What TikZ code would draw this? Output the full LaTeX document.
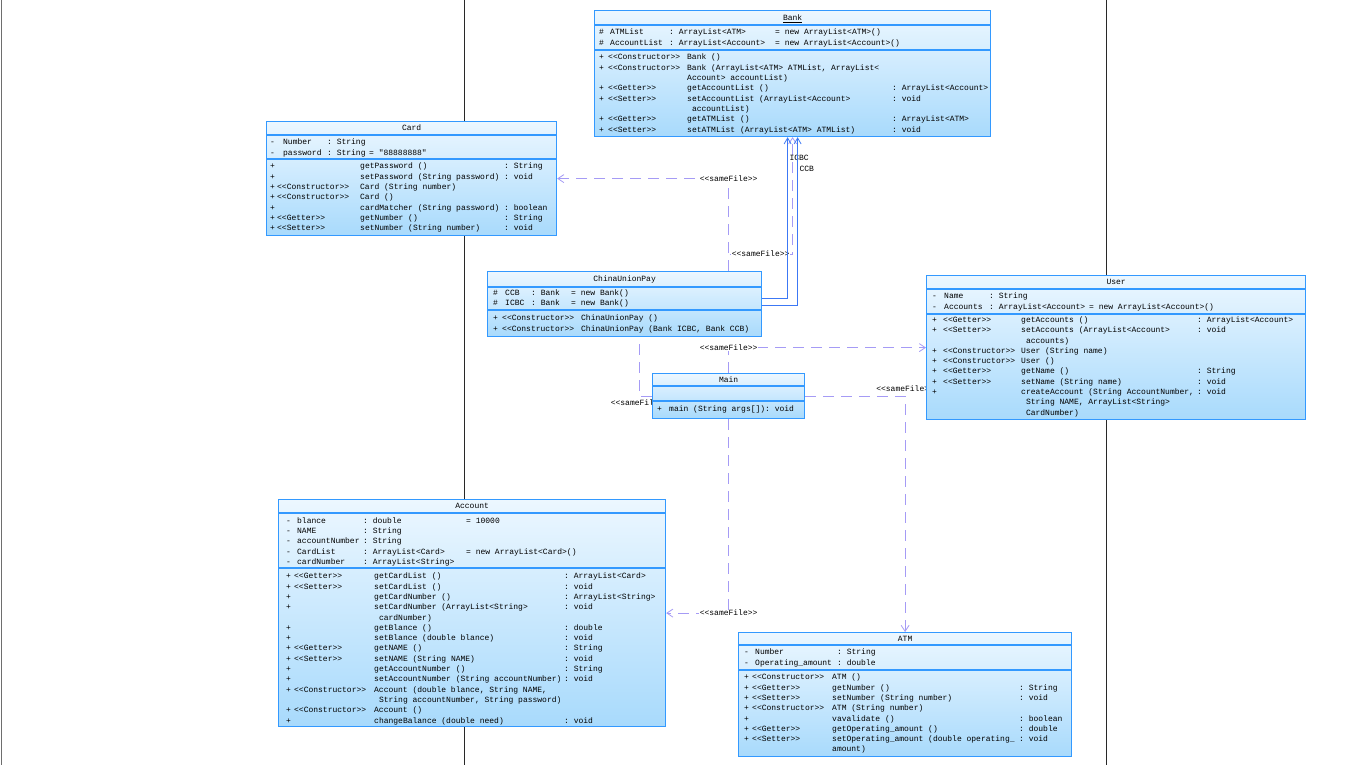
\documentclass[tikz,border=0pt]{standalone}
\usepackage{fontspec}
\setmonofont{Liberation Mono}
\usepackage{array}
\usetikzlibrary{
  arrows.meta,
  positioning,
  backgrounds
}
\definecolor{umlborder}{RGB}{51,153,255}
\definecolor{umltop}{RGB}{236,247,255}
\definecolor{umlbottom}{RGB}{168,218,252}
\definecolor{depline}{RGB}{165,155,245}
\definecolor{assocline}{RGB}{60,120,245}
\definecolor{pageline}{RGB}{40,40,40}
\definecolor{edgegray}{RGB}{110,110,110}
\newcommand{\umlfont}{\ttfamily\fontsize{8}{10.3}\selectfont}
\newcolumntype{W}[1]{>{\hbox to #1\bgroup}l<{\hss\egroup}}
\setlength{\tabcolsep}{0pt}

\begin{document}
\begin{tikzpicture}[
            x=1pt, y=-1pt,
            umlbox/.style={draw=umlborder, line width=1.2pt, top color=umltop, bottom color=umlbottom, inner sep=0pt, anchor=north west},
            umlsep/.style={draw=umlborder, line width=1.2pt},
            ttl/.style={font=\umlfont, inner sep=0pt, text height=5.5pt, text depth=0pt},
            compt/.style={font=\umlfont, inner sep=0pt, anchor=north west},
            lbl/.style={font=\umlfont, fill=white, inner sep=0.5pt},
            rolelbl/.style={font=\umlfont, inner sep=1.5pt, anchor=west},
            dep/.style={draw=depline, line width=0.8pt, dash pattern=on 11pt off 7pt, -{Straight Barb[length=6pt,width=8pt]}},
            depnotip/.style={draw=depline, line width=0.8pt, dash pattern=on 11pt off 7pt},
            assoc/.style={draw=assocline, line width=0.8pt, -{Straight Barb[length=6pt,width=7pt]}}
        ]
            \useasboundingbox (0,0) rectangle (1364,765);

            % Bank
            \node[umlbox, minimum width=396pt, minimum height=126pt] (bank) at (594,10) {};
            \draw[umlsep] ([yshift=-15pt]bank.north west) -- ([yshift=-15pt]bank.north east);
            \draw[umlsep] ([yshift=-40pt]bank.north west) -- ([yshift=-40pt]bank.north east);
            \node[ttl] (bank-ttl) at ([yshift=-7.5pt]bank.north) {\underline{Bank}};
            \node[compt] (bank-attr) at ([xshift=5pt,yshift=-17.5pt]bank.north west) {\begin{tabular}{W{11pt}W{59pt}W{106pt}l}
                \# & ATMList & : ArrayList<ATM> & = new ArrayList<ATM>()\\
                \# & AccountList & : ArrayList<Account> & = new ArrayList<Account>()
            \end{tabular}};
            \node[compt] (bank-ops) at ([xshift=5pt,yshift=-42.5pt]bank.north west) {\begin{tabular}{W{9pt}W{79pt}W{205pt}l}
                + & <<Constructor>> & Bank () & \\
                + & <<Constructor>> & Bank (ArrayList<ATM> ATMList, ArrayList< & \\
                  & & Account> accountList) & \\
                + & <<Getter>> & getAccountList () & : ArrayList<Account>\\
                + & <<Setter>> & setAccountList (ArrayList<Account> & : void\\
                  & & \ accountList) & \\
                + & <<Getter>> & getATMList () & : ArrayList<ATM>\\
                + & <<Setter>> & setATMList (ArrayList<ATM> ATMList) & : void
            \end{tabular}};

            % Card
            \node[umlbox, minimum width=290pt, minimum height=114pt] (card) at (266,121) {};
            \draw[umlsep] ([yshift=-14pt]card.north west) -- ([yshift=-14pt]card.north east);
            \draw[umlsep] ([yshift=-38pt]card.north west) -- ([yshift=-38pt]card.north east);
            \node[ttl] (card-ttl) at ([yshift=-7pt]card.north) {Card};
            \node[compt] (card-attr) at ([xshift=4pt,yshift=-16.5pt]card.north west) {\begin{tabular}{W{13pt}W{44pt}W{42pt}l}
                - & Number & : String & \\
                - & password & : String & = "88888888"
            \end{tabular}};
            \node[compt] (card-ops) at ([xshift=4pt,yshift=-40.5pt]card.north west) {\begin{tabular}{W{7pt}W{83pt}W{144pt}l}
                + & & getPassword () & : String\\
                + & & setPassword (String password) & : void\\
                + & <<Constructor>> & Card (String number) & \\
                + & <<Constructor>> & Card () & \\
                + & & cardMatcher (String password) & : boolean\\
                + & <<Getter>> & getNumber () & : String\\
                + & <<Setter>> & setNumber (String number) & : void
            \end{tabular}};

            % ChinaUnionPay
            \node[umlbox, minimum width=274pt, minimum height=65pt] (cup) at (487,271) {};
            \draw[umlsep] ([yshift=-16pt]cup.north west) -- ([yshift=-16pt]cup.north east);
            \draw[umlsep] ([yshift=-39pt]cup.north west) -- ([yshift=-39pt]cup.north east);
            \node[ttl] (cup-ttl) at ([yshift=-8pt]cup.north) {ChinaUnionPay};
            \node[compt] (cup-attr) at ([xshift=6pt,yshift=-17pt]cup.north west) {\begin{tabular}{W{12pt}W{26pt}W{40pt}l}
                \# & CCB & : Bank & = new Bank()\\
                \# & ICBC & : Bank & = new Bank()
            \end{tabular}};
            \node[compt] (cup-ops) at ([xshift=6pt,yshift=-42.5pt]cup.north west) {\begin{tabular}{W{9pt}W{79pt}l}
                + & <<Constructor>> & ChinaUnionPay ()\\
                + & <<Constructor>> & ChinaUnionPay (Bank ICBC, Bank CCB)
            \end{tabular}};

            % User
            \node[umlbox, minimum width=379pt, minimum height=144pt] (user) at (926,275) {};
            \draw[umlsep] ([yshift=-14pt]user.north west) -- ([yshift=-14pt]user.north east);
            \draw[umlsep] ([yshift=-39pt]user.north west) -- ([yshift=-39pt]user.north east);
            \node[ttl] (user-ttl) at ([yshift=-7pt]user.north) {User};
            \node[compt] (user-attr) at ([xshift=6pt,yshift=-16.5pt]user.north west) {\begin{tabular}{W{12pt}W{45pt}W{100pt}l}
                - & Name & : String & \\
                - & Accounts & : ArrayList<Account> & = new ArrayList<Account>()
            \end{tabular}};
            \node[compt] (user-ops) at ([xshift=6pt,yshift=-40pt]user.north west) {\begin{tabular}{W{11pt}W{78pt}W{176pt}l}
                + & <<Getter>> & getAccounts () & : ArrayList<Account>\\
                + & <<Setter>> & setAccounts (ArrayList<Account> & : void\\
                  & & \ accounts) & \\
                + & <<Constructor>> & User (String name) & \\
                + & <<Constructor>> & User () & \\
                + & <<Getter>> & getName () & : String\\
                + & <<Setter>> & setName (String name) & : void\\
                + & & createAccount (String AccountNumber, & : void\\
                  & & \ String NAME, ArrayList<String> & \\
                  & & \ CardNumber) &
            \end{tabular}};

            % Main
            \node[umlbox, minimum width=152pt, minimum height=45pt] (main) at (652,373) {};
            \draw[umlsep] ([yshift=-13pt]main.north west) -- ([yshift=-13pt]main.north east);
            \draw[umlsep] ([yshift=-28pt]main.north west) -- ([yshift=-28pt]main.north east);
            \node[ttl] (main-ttl) at ([yshift=-6.5pt]main.north) {Main};
            \node[compt] (main-ops) at ([xshift=5pt,yshift=-31.4pt]main.north west) {\begin{tabular}{W{12pt}l}
                + & main (String args[]): void
            \end{tabular}};

            % Account
            \node[umlbox, minimum width=387pt, minimum height=227pt] (account) at (278,499) {};
            \draw[umlsep] ([yshift=-14pt]account.north west) -- ([yshift=-14pt]account.north east);
            \draw[umlsep] ([yshift=-69pt]account.north west) -- ([yshift=-69pt]account.north east);
            \node[ttl] (account-ttl) at ([yshift=-7pt]account.north) {Account};
            \node[compt] (account-attr) at ([xshift=8pt,yshift=-16.7pt]account.north west) {\begin{tabular}{W{11pt}W{66pt}W{103pt}l}
                - & blance & : double & = 10000\\
                - & NAME & : String & \\
                - & accountNumber & : String & \\
                - & CardList & : ArrayList<Card> & = new ArrayList<Card>()\\
                - & cardNumber & : ArrayList<String> &
            \end{tabular}};
            \node[compt] (account-ops) at ([xshift=8pt,yshift=-72.4pt]account.north west) {\begin{tabular}{W{8pt}W{80pt}W{190pt}l}
                + & <<Getter>> & getCardList () & : ArrayList<Card>\\
                + & <<Setter>> & setCardList () & : void\\
                + & & getCardNumber () & : ArrayList<String>\\
                + & & setCardNumber (ArrayList<String> & : void\\
                  & & \ cardNumber) & \\
                + & & getBlance () & : double\\
                + & & setBlance (double blance) & : void\\
                + & <<Getter>> & getNAME () & : String\\
                + & <<Setter>> & setNAME (String NAME) & : void\\
                + & & getAccountNumber () & : String\\
                + & & setAccountNumber (String accountNumber) & : void\\
                + & <<Constructor>> & Account (double blance, String NAME, & \\
                  & & \ String accountNumber, String password) & \\
                + & <<Constructor>> & Account () & \\
                + & & changeBalance (double need) & : void
            \end{tabular}};

            % ATM
            \node[umlbox, minimum width=333pt, minimum height=124pt] (atm) at (738,632) {};
            \draw[umlsep] ([yshift=-13pt]atm.north west) -- ([yshift=-13pt]atm.north east);
            \draw[umlsep] ([yshift=-38pt]atm.north west) -- ([yshift=-38pt]atm.north east);
            \node[ttl] (atm-ttl) at ([yshift=-6.5pt]atm.north) {ATM};
            \node[compt] (atm-attr) at ([xshift=6pt,yshift=-15.4pt]atm.north west) {\begin{tabular}{W{11pt}W{82pt}l}
                - & Number & : String\\
                - & Operating\_amount & : double
            \end{tabular}};
            \node[compt] (atm-ops) at ([xshift=6pt,yshift=-40.4pt]atm.north west) {\begin{tabular}{W{8pt}W{80pt}W{187pt}l}
                + & <<Constructor>> & ATM () & \\
                + & <<Getter>> & getNumber () & : String\\
                + & <<Setter>> & setNumber (String number) & : void\\
                + & <<Constructor>> & ATM (String number) & \\
                + & & vavalidate () & : boolean\\
                + & <<Getter>> & getOperating\_amount () & : double\\
                + & <<Setter>> & setOperating\_amount (double operating\_ & : void\\
                  & & amount) &
            \end{tabular}};

            \begin{scope}[on background layer]
                \fill[white] (0,0) rectangle (1364,765);
                % page borders
                \draw[edgegray, line width=1.6pt] (1.5,0) -- (1.5,765);
                \draw[pageline, line width=1pt] (464,0) -- (464,765);
                \draw[pageline, line width=1pt] (1106,0) -- (1106,765);

                % sameFile dependencies
                \draw[dep] (cup.north -| main.north) |- node[lbl] {<<sameFile>>} (card.east);
                \draw[dep] (cup.north -| main.north) -- ++(0,-17) -| node[lbl, pos=0.25] {<<sameFile>>} (bank.south);
                \draw[dep] (main.north) |- node[lbl] {<<sameFile>>} (user.west);
                \draw[depnotip] (main.west) -| node[lbl, yshift=-6.5pt] {<<sameFile>>} ([xshift=15pt]cup.south);
                \draw[dep] (main.east) -| node[lbl, yshift=7pt] {<<sameFile>>} (atm.north);
                \draw[dep] (main.south) |- node[lbl] {<<sameFile>>} (account.east);

                % associations to Bank
                \draw[assoc] ([yshift=5.5pt]cup.east) -| node[rolelbl, pos=0.935] {ICBC} ([xshift=-5pt]bank.south);
                \draw[assoc] ([yshift=-1.5pt]cup.east) -| node[rolelbl, pos=0.905] {CCB} ([xshift=5pt]bank.south);
            \end{scope}
        \end{tikzpicture}
\end{document}
